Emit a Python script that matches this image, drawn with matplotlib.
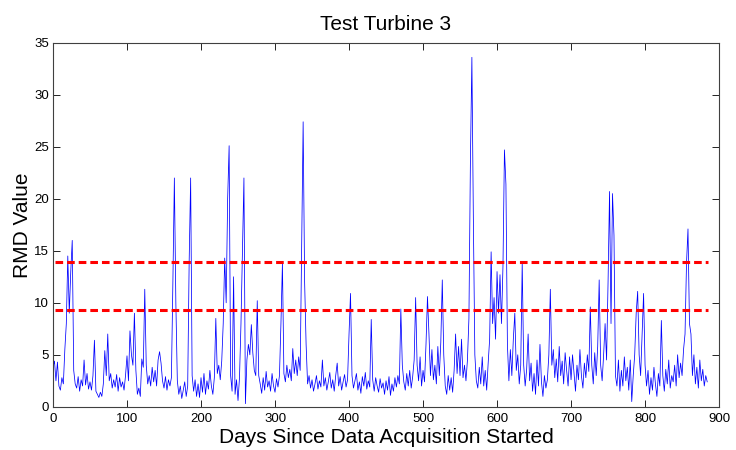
import matplotlib
matplotlib.use("Agg")
import matplotlib.pyplot as plt
import numpy as np

# ---- data ----
day_step = 2
rmd_values = [
    # days 0-48
    3.8, 4.4, 2.5, 4.3, 2.0, 1.6, 2.8, 2.2, 5.5, 8.0, 14.5, 9.0, 13.0, 16.0, 3.5, 2.2, 1.8, 2.9, 1.5, 2.6, 2.0, 4.5, 2.1, 3.2, 1.7,
    # days 50-98
    2.4, 1.6, 3.0, 6.4, 1.5, 1.2, 0.9, 1.4, 1.0, 2.2, 5.4, 3.0, 7.0, 2.5, 3.2, 1.8, 2.6, 1.9, 3.1, 1.5, 2.8, 1.9, 2.4, 1.6, 3.0,
    # days 100-148
    4.9, 2.5, 7.3, 5.0, 4.0, 9.0, 3.5, 1.2, 1.8, 1.0, 4.6, 3.8, 11.3, 4.0, 2.2, 3.0, 2.0, 3.8, 2.4, 3.5, 2.0, 4.5, 5.3, 4.2, 2.5,
    # days 150-198
    1.8, 2.9, 1.6, 2.6, 2.0, 2.8, 12.0, 22.0, 10.0, 2.5, 1.2, 2.0, 0.8, 1.6, 2.4, 1.0, 2.0, 14.0, 22.0, 3.0, 1.5, 2.6, 1.0, 2.2, 0.9,
    # days 200-248
    2.8, 1.4, 3.2, 1.2, 2.5, 1.7, 3.5, 2.0, 1.2, 2.8, 8.5, 3.2, 4.0, 2.6, 4.4, 8.0, 14.3, 10.0, 20.0, 25.1, 3.0, 1.5, 12.5, 1.2, 2.6,
    # days 250-298
    0.6, 2.8, 8.0, 15.0, 22.0, 0.3, 4.5, 6.0, 5.0, 7.9, 5.2, 3.5, 3.0, 10.2, 3.0, 2.2, 1.3, 2.8, 1.6, 3.4, 1.9, 2.5, 1.5, 3.2, 2.0,
    # days 300-348
    1.4, 2.7, 1.9, 3.0, 8.0, 13.8, 3.2, 2.4, 4.0, 2.8, 3.6, 2.5, 5.6, 3.2, 4.5, 3.0, 4.8, 3.5, 15.8, 27.4, 12.0, 6.0, 2.2, 3.0, 1.8,
    # days 350-398
    2.6, 1.5, 2.2, 3.0, 1.7, 2.5, 1.9, 4.5, 2.0, 2.8, 1.6, 2.4, 3.3, 1.8, 2.6, 1.5, 3.0, 4.2, 2.0, 2.9, 1.6, 2.4, 3.1, 1.9, 2.6,
    # days 400-448
    7.0, 10.9, 3.0, 1.8, 2.5, 3.2, 1.6, 2.4, 1.3, 2.9, 2.0, 3.3, 1.7, 2.5, 1.9, 8.4, 2.6, 1.5, 2.8, 2.0, 1.4, 2.7, 1.8, 2.3, 1.2,
    # days 450-498
    2.5, 1.6, 2.9, 1.1, 2.2, 1.5, 2.8, 1.9, 3.0, 2.2, 9.4, 4.0, 2.4, 1.6, 3.2, 2.0, 3.5, 1.8, 2.9, 4.5, 10.5, 4.0, 2.5, 4.8, 2.0,
    # days 500-548
    3.5, 2.4, 6.0, 10.6, 7.0, 3.0, 5.5, 2.6, 4.0, 2.2, 5.8, 3.0, 6.2, 12.2, 5.0, 2.0, 1.2, 3.0, 1.6, 2.8, 1.4, 3.5, 7.0, 3.2, 5.8,
    # days 550-598
    3.0, 6.5, 2.8, 4.0, 2.5, 4.5, 8.5, 23.6, 33.6, 18.0, 5.0, 2.5, 1.8, 3.8, 2.2, 4.8, 2.0, 3.5, 1.6, 4.2, 6.5, 14.9, 8.0, 10.5, 6.5,
    # days 600-648
    13.0, 9.0, 12.7, 8.0, 13.5, 24.7, 21.4, 6.0, 2.5, 5.5, 3.0, 6.5, 9.0, 3.5, 5.0, 2.2, 4.0, 13.9, 4.0, 2.0, 3.6, 7.0, 2.5, 4.2, 1.5,
    # days 650-698
    3.2, 1.2, 4.5, 2.0, 6.0, 2.4, 1.0, 3.0, 1.8, 2.6, 5.0, 11.3, 4.0, 5.5, 2.8, 4.6, 2.4, 5.8, 3.0, 4.4, 2.2, 5.2, 3.5, 2.0, 4.8,
    # days 700-748
    2.6, 5.0, 3.2, 1.5, 4.0, 2.6, 5.5, 3.0, 1.8, 4.2, 2.8, 5.0, 3.4, 9.6, 4.0, 2.2, 5.2, 3.0, 5.8, 12.2, 4.0, 2.5, 5.0, 8.0, 4.5,
    # days 750-798
    12.0, 20.7, 8.0, 20.5, 16.5, 3.0, 2.0, 4.5, 1.5, 3.5, 2.0, 4.8, 2.5, 3.8, 1.6, 4.5, 0.5, 3.0, 5.0, 9.0, 11.1, 5.0, 3.0, 7.0, 10.9,
    # days 800-848
    4.0, 2.0, 3.5, 1.2, 2.8, 1.6, 3.8, 2.2, 1.0, 3.2, 2.0, 8.3, 3.0, 1.5, 3.6, 2.2, 4.5, 1.8, 3.0, 2.4, 4.0, 2.0, 5.0, 2.8, 4.2,
    # days 850-884
    3.0, 5.5, 7.0, 13.8, 17.1, 8.0, 7.0, 3.0, 5.0, 2.2, 3.8, 1.8, 4.5, 2.5, 3.6, 2.0, 3.0, 2.4,
]
days = [i * day_step for i in range(len(rmd_values))]

threshold_levels = [13.9, 9.3]
threshold_span = [3, 885]

x_ticks = [0, 100, 200, 300, 400, 500, 600, 700, 800, 900]
y_ticks = [0, 5, 10, 15, 20, 25, 30, 35]

title_text = "Test Turbine 3"
x_label_text = "Days Since Data Acquisition Started"
y_label_text = "RMD Value"

# ---- figure ----
fig = plt.figure(figsize=(7.36, 4.5), dpi=100)
ax = fig.add_axes([0.072, 0.096, 0.905, 0.809])

ax.plot(days, rmd_values, color=(0, 0, 1), linewidth=0.55)
for lvl in threshold_levels:
    ax.plot(threshold_span, [lvl, lvl], color=(1, 0, 0), linewidth=2.2,
            linestyle=(0, (2.5, 1.3)))

ax.set_xlim(0, 900)
ax.set_ylim(0, 35)
ax.set_xticks(x_ticks)
ax.set_yticks(y_ticks)

tick_font = ['Liberation Sans', 'DejaVu Sans']
ax.set_xticklabels([str(t) for t in x_ticks], family=tick_font, fontsize=9.5)
ax.set_yticklabels([str(t) for t in y_ticks], family=tick_font, fontsize=9.5)
ax.tick_params(axis='x', pad=4.5)
ax.tick_params(axis='y', pad=3)
ax.tick_params(direction='in', top=True, right=True, length=5, width=0.6,
               color='black')
for s in ax.spines.values():
    s.set_linewidth(0.8)
    s.set_color('#404040')

text_font = ['Liberation Sans', 'DejaVu Sans']
ax.set_title(title_text, family=text_font, fontsize=15, pad=9.5)
ax.set_xlabel(x_label_text, family=text_font, fontsize=15)
ax.xaxis.set_label_coords(0.5, -0.058)
ax.set_ylabel(y_label_text, family=text_font, fontsize=15, labelpad=1.5)

fig.savefig("out.png", dpi=100)
